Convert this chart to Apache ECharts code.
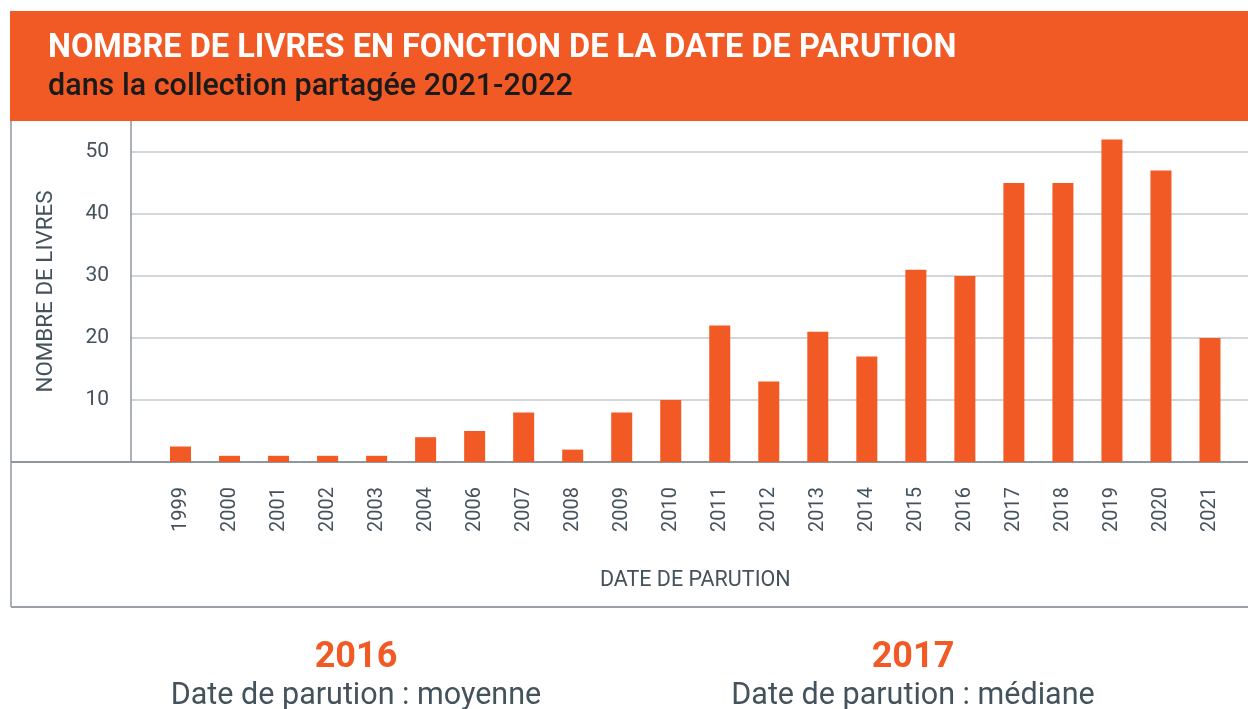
<!DOCTYPE html>
<html>
<head>
<meta charset="utf-8">
<script src="https://cdn.jsdelivr.net/npm/echarts@6/dist/echarts.min.js"></script>
<style>
html,body{margin:0;padding:0;background:#fff;}
#chart{width:1248px;height:709px;}
</style>
</head>
<body>
<div id="chart"></div>
<script>
const categories = ['1999','2000','2001','2002','2003','2004','2006','2007','2008','2009','2010','2011','2012','2013','2014','2015','2016','2017','2018','2019','2020','2021'];
const books = [2.5,1,1,1,1,4,5,8,2,8,10,22,13,21,17,31,30,45,45,52,47,20];
const yTicks = [10,20,30,40,50];
const titleText = 'NOMBRE DE LIVRES EN FONCTION DE LA DATE DE PARUTION';
const subtitleText = 'dans la collection partagée 2021-2022';
const yAxisTitle = 'NOMBRE DE LIVRES';
const xAxisTitle = 'DATE DE PARUTION';
const stats = [
  {value: '2016', label: 'Date de parution : moyenne'},
  {value: '2017', label: 'Date de parution : médiane'}
];

const ORANGE = '#F15A24';
const TEXT = '#44525c';
const FONT = 'Roboto, "Noto Sans", sans-serif';

const chart = echarts.init(document.getElementById('chart'), null, {renderer: 'canvas'});

const yMax = 55;
const gridTop = 121, gridBottom = 709 - 462;

chart.setOption({
  animation: false,
  backgroundColor: '#ffffff',
  grid: [
    {left: 131, right: 0, top: gridTop, bottom: gridBottom},
    {left: 156, right: 13.5, top: gridTop, bottom: gridBottom}
  ],
  xAxis: [
    {gridIndex: 0, type: 'value', min: 0, max: 1, show: true,
      axisLine: {show: true, lineStyle: {color: '#8f979e', width: 2}},
      axisTick: {show: false}, axisLabel: {show: false}, splitLine: {show: false}},
    {gridIndex: 1, type: 'category', data: categories,
      axisLine: {show: false}, axisTick: {show: false},
      axisLabel: {rotate: 90, margin: 25, fontSize: 20, color: TEXT, fontFamily: FONT},
      name: xAxisTitle, nameLocation: 'middle', nameGap: 108,
      nameTextStyle: {fontSize: 21.5, color: TEXT, fontFamily: FONT}}
  ],
  yAxis: [
    {gridIndex: 0, type: 'value', min: 0, max: yMax, interval: 10,
      axisLine: {show: true, lineStyle: {color: '#8f979e', width: 1.5}},
      axisTick: {show: false},
      axisLabel: {margin: 22, fontSize: 21, color: TEXT, fontFamily: FONT,
        formatter: v => yTicks.includes(v) ? String(v) : ''},
      splitLine: {show: true, showMinLine: false, showMaxLine: false, lineStyle: {color: '#c3cad1', width: 1.5}},
      name: yAxisTitle, nameLocation: 'middle', nameGap: 74, nameRotate: 90,
      nameTextStyle: {fontSize: 22.4, color: TEXT, fontFamily: FONT}},
    {gridIndex: 1, type: 'value', min: 0, max: yMax, interval: 10, show: false, splitLine: {show: false}}
  ],
  series: [{
    type: 'bar', xAxisIndex: 1, yAxisIndex: 1, data: books, barWidth: 21,
    itemStyle: {color: ORANGE}
  }],
  graphic: [
    {type: 'rect', shape: {x: 10, y: 11, width: 1238, height: 110}, style: {fill: ORANGE}, z: 10},
    {type: 'text', x: 48, y: 49, z: 11, style: {text: titleText, fill: '#ffffff', font: 'bold 32.5px ' + FONT, textVerticalAlign: 'middle'}},
    {type: 'text', x: 48, y: 87, z: 11, style: {text: subtitleText, fill: '#1a1a1a', font: '500 30.5px ' + FONT, textVerticalAlign: 'middle'}},
    {type: 'line', shape: {x1: 11, y1: 121, x2: 11, y2: 607}, style: {stroke: '#8f979e', lineWidth: 1.5}, z: 5},
    {type: 'line', shape: {x1: 11, y1: 607, x2: 1248, y2: 607}, style: {stroke: '#9aa1a7', lineWidth: 2}, z: 5},
    {type: 'line', shape: {x1: 11, y1: 462, x2: 131, y2: 462}, style: {stroke: '#8f979e', lineWidth: 2}, z: 5},
    {type: 'text', x: 356, y: 658, z: 11, style: {text: stats[0].value, fill: ORANGE, font: 'bold 36px ' + FONT, textAlign: 'center', textVerticalAlign: 'middle'}},
    {type: 'text', x: 356, y: 696, z: 11, style: {text: stats[0].label, fill: TEXT, font: '30.5px ' + FONT, textAlign: 'center', textVerticalAlign: 'middle'}},
    {type: 'text', x: 913, y: 658, z: 11, style: {text: stats[1].value, fill: ORANGE, font: 'bold 36px ' + FONT, textAlign: 'center', textVerticalAlign: 'middle'}},
    {type: 'text', x: 913, y: 696, z: 11, style: {text: stats[1].label, fill: TEXT, font: '30.5px ' + FONT, textAlign: 'center', textVerticalAlign: 'middle'}}
  ]
});
</script>
</body>
</html>
